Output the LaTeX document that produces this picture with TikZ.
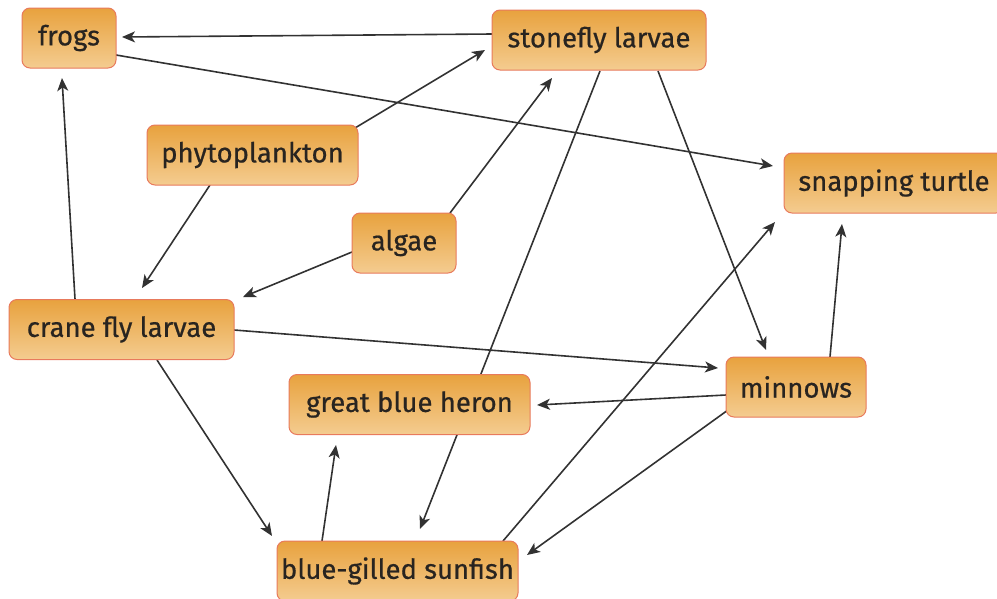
\documentclass[tikz,border=0pt]{standalone}
\usepackage{fontspec}
\setmainfont{Fira Sans}[FakeBold=0.6,BoldFont=*]
\usetikzlibrary{calc,arrows.meta}
\definecolor{boxtop}{RGB}{232,162,62}
\definecolor{boxbot}{RGB}{244,204,144}
\definecolor{boxline}{RGB}{232,122,92}
\definecolor{txt}{RGB}{40,36,32}
\definecolor{arr}{RGB}{50,50,50}
\pgfdeclarelayer{bg}
\pgfsetlayers{bg,main}
\tikzset{
  species/.style={rectangle, rounded corners=8pt, draw=boxline, line width=1pt,
    top color=boxtop, bottom color=boxbot, text=txt, minimum height=60pt,
    inner sep=0pt, font=\fontsize{27.5}{32}\selectfont\bfseries},
  eats/.style={draw=arr, line width=1.6pt, -{Stealth[length=13pt,width=11pt,inset=3.5pt]}}
}
\begin{document}
\begin{tikzpicture}[x=1pt,y=-1pt]
\useasboundingbox (0,0) rectangle (997,598);
\node[species, minimum width=94pt]  (frogs) at (69,38) {frogs};
\node[species, minimum width=214pt] (stone) at (599,40) {stonefly larvae};
\node[species, minimum width=211pt] (phyto) at (252.5,155) {phytoplankton};
\node[species, minimum width=220pt] (turtle) at (894,183) {snapping turtle};
\node[species, minimum width=104pt] (algae) at (404,243) {algae};
\node[species, minimum width=225pt] (crane) at (121.5,329.5) {crane fly larvae};
\node[species, minimum width=140pt] (minn) at (796,387) {minnows};
\node[species, minimum width=241pt] (heron) at (409.5,404.5) {great blue heron};
\node[species, minimum width=241pt] (sun) at (397.5,571) {blue-gilled sunfish};
\begin{pgfonlayer}{bg}
\draw[eats] ($(stone)+(-107,-6)$) -- ($(frogs)+(53,-1)$);
\draw[eats] ($(frogs)+(47,17)$) -- ($(turtle)+(-121,-17)$);
\draw[eats] ($(phyto)+(102.5,-27)$) -- ($(stone)+(-114,10)$);
\draw[eats] ($(algae)+(46,-30)$) -- ($(stone)+(-47,38)$);
\draw[eats] ($(phyto)+(-42.5,30)$) -- ($(crane)+(20.5,-41.5)$);
\draw[eats] ($(algae)+(-52,9)$) -- ($(crane)+(121.5,-32.5)$);
\draw[eats] ($(crane)+(-46.5,-30.5)$) -- ($(frogs)+(-7,40)$);
\draw[eats] ($(crane)+(112.5,0.5)$) -- ($(minn)+(-78,-19)$);
\draw[eats] ($(crane)+(35.5,30.5)$) -- ($(sun)+(-125.5,-35)$);
\draw[eats] ($(stone)+(59,31)$) -- ($(minn)+(-30,-37)$);
\draw[eats] ($(stone)+(1,31)$) -- ($(sun)+(22.5,-42)$);
\draw[eats] ($(minn)+(34,-30)$) -- ($(turtle)+(-52,41)$);
\draw[eats] ($(sun)+(105.5,-30)$) -- ($(turtle)+(-119,39)$);
\draw[eats] ($(minn)+(-70,8)$) -- ($(heron)+(127.5,0.5)$);
\draw[eats] ($(minn)+(-68,23)$) -- ($(sun)+(129.5,-16)$);
\draw[eats] ($(sun)+(-75.5,-30)$) -- ($(heron)+(-73.5,40.5)$);
\end{pgfonlayer}
\end{tikzpicture}
\end{document}
